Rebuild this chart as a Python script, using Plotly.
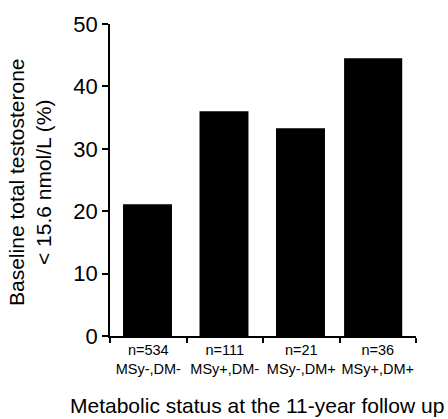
import plotly.graph_objects as go

groups = ["MSy-,DM-", "MSy+,DM-", "MSy-,DM+", "MSy+,DM+"]
n_counts = [534, 111, 21, 36]
percent_low_t = [21.1, 36.0, 33.3, 44.5]
y_ticks = [0, 10, 20, 30, 40, 50]

cat_labels = [f"n={n}<br>{g}" for n, g in zip(n_counts, groups)]

FONT = "Liberation Sans, Arial, sans-serif"
NARROW = "Liberation Sans Narrow, Arial Narrow, Liberation Sans, sans-serif"

fig = go.Figure()
fig.add_trace(go.Bar(
    x=cat_labels,
    y=percent_low_t,
    marker=dict(color="black", line=dict(width=0)),
    width=[0.64, 0.64, 0.64, 0.76],
    offset=[-0.33, -0.33, -0.33, -0.44],
    showlegend=False,
    hoverinfo="skip",
))

fig.update_layout(
    width=448, height=419,
    margin=dict(l=110, r=32, t=24, b=83),
    paper_bgcolor="white", plot_bgcolor="white",
    font=dict(family=FONT, color="black"),
    xaxis=dict(
        type="category",
        range=[-0.5, 3.5],
        automargin=False,
        showline=True, linecolor="black", linewidth=1.5,
        ticks="outside", tickson="boundaries", ticklen=5, tickwidth=1.5, tickcolor="black",
        tickangle=0,
        tickfont=dict(size=14.5, family=FONT),
        showgrid=False, zeroline=False,
    ),
    yaxis=dict(
        range=[0, 50],
        automargin=False,
        tickvals=y_ticks,
        showline=True, linecolor="black", linewidth=1.5,
        ticks="outside", ticklen=6, tickwidth=1.5, tickcolor="black",
        tickfont=dict(size=22, family=NARROW),
        showgrid=False, zeroline=False,
    ),
    annotations=[
        dict(text="Baseline total testosterone<br>< 15.6 nmol/L (%)",
             xref="paper", yref="paper", x=(30 - 110) / 306, y=(336 - 182) / 312,
             xanchor="center", yanchor="middle", textangle=-90, showarrow=False,
             font=dict(size=21, family=FONT, color="black")),
        dict(text="Metabolic status at the 11-year follow up",
             xref="paper", yref="paper", x=(257 - 110) / 306, y=(336 - 405) / 312,
             xanchor="center", yanchor="middle", showarrow=False,
             font=dict(size=21, family=FONT, color="black")),
    ],
)

fig.write_html("out.html", config={"displayModeBar": False},
               post_script="document.body.style.margin='0';")
